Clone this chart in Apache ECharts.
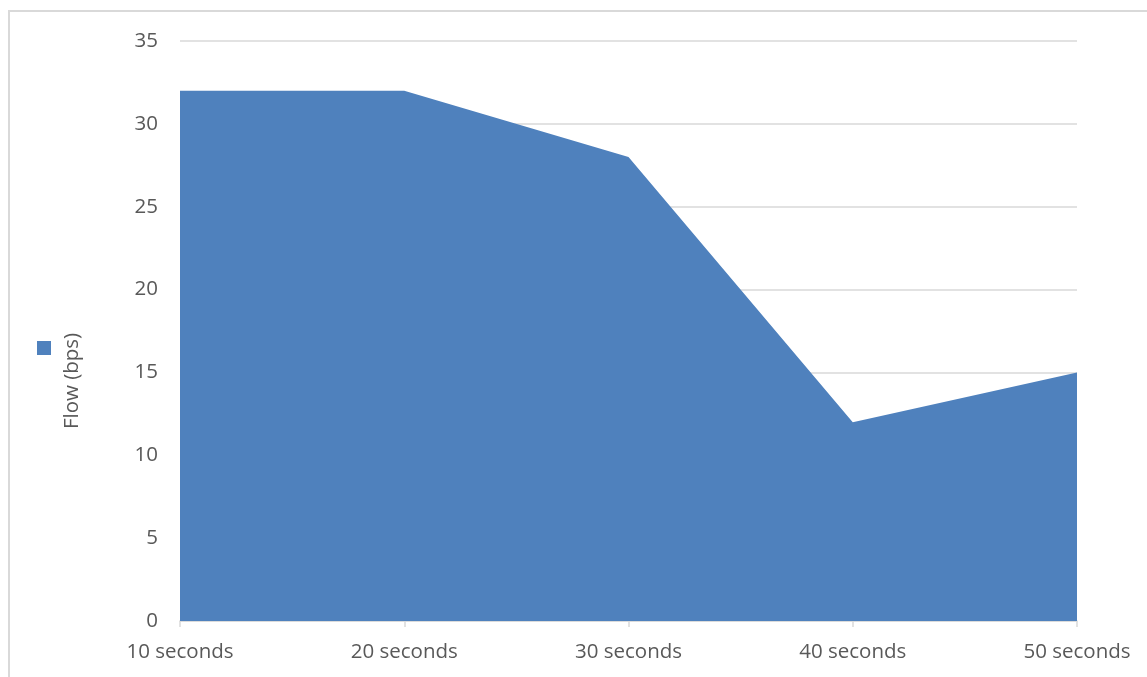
<!DOCTYPE html>
<html>
<head>
<meta charset="utf-8">
<style>
  html, body { margin: 0; padding: 0; background: #fff; }
  #chart { width: 1147px; height: 677px; }
</style>
<script src="https://cdn.jsdelivr.net/npm/echarts@6/dist/echarts.min.js"></script>
</head>
<body>
<div id="chart"></div>
<script>
// Flow measured at each sampling interval
const categories = ['10 seconds', '20 seconds', '30 seconds', '40 seconds', '50 seconds'];
const flowValues = [32, 32, 28, 12, 15];
const seriesName = 'Flow (bps)';

const textColor = '#595959';
const gridColor = '#d9d9d9';
const fillColor = '#4f81bd';
const fontFamily = '"Open Sans", "Liberation Sans", sans-serif';
const fontSize = 20.5;

const chart = echarts.init(document.getElementById('chart'));
chart.setOption({
  animation: false,
  grid: { left: 180, right: 70, top: 41, bottom: 56 },
  legend: {
    data: [{ name: seriesName, icon: 'rect' }],
    orient: 'vertical',
    left: 37,
    top: 341,
    padding: 0,
    itemWidth: 14,
    itemHeight: 14,
    formatter: () => '',
    selectedMode: false
  },
  xAxis: {
    type: 'category',
    data: categories,
    boundaryGap: false,
    axisLine: { lineStyle: { color: gridColor, width: 1.5 } },
    axisTick: { show: true, length: 6, lineStyle: { color: gridColor, width: 1.5 } },
    axisLabel: { color: textColor, fontSize, fontFamily, margin: 21 }
  },
  yAxis: {
    type: 'value',
    min: 0,
    max: 35,
    interval: 5,
    axisLine: { show: false },
    axisTick: { show: false },
    splitLine: { lineStyle: { color: gridColor, width: 1.5 } },
    axisLabel: { color: textColor, fontSize, fontFamily, margin: 22 }
  },
  series: [{
    name: seriesName,
    type: 'line',
    data: flowValues,
    showSymbol: false,
    itemStyle: { color: fillColor },
    lineStyle: { width: 0, color: fillColor },
    areaStyle: { color: fillColor, opacity: 1 }
  }],
  graphic: [
    {
      type: 'rect',
      shape: { x: 9, y: 11, width: 1300, height: 900 },
      style: { fill: 'none', stroke: gridColor, lineWidth: 2 },
      silent: true,
      z: -1
    },
    {
      type: 'text',
      x: 72,
      y: 381,
      rotation: Math.PI / 2,
      style: {
        text: seriesName,
        fill: textColor,
        font: fontSize + 'px ' + fontFamily,
        align: 'center',
        verticalAlign: 'middle'
      }
    }
  ]
});
</script>
</body>
</html>
